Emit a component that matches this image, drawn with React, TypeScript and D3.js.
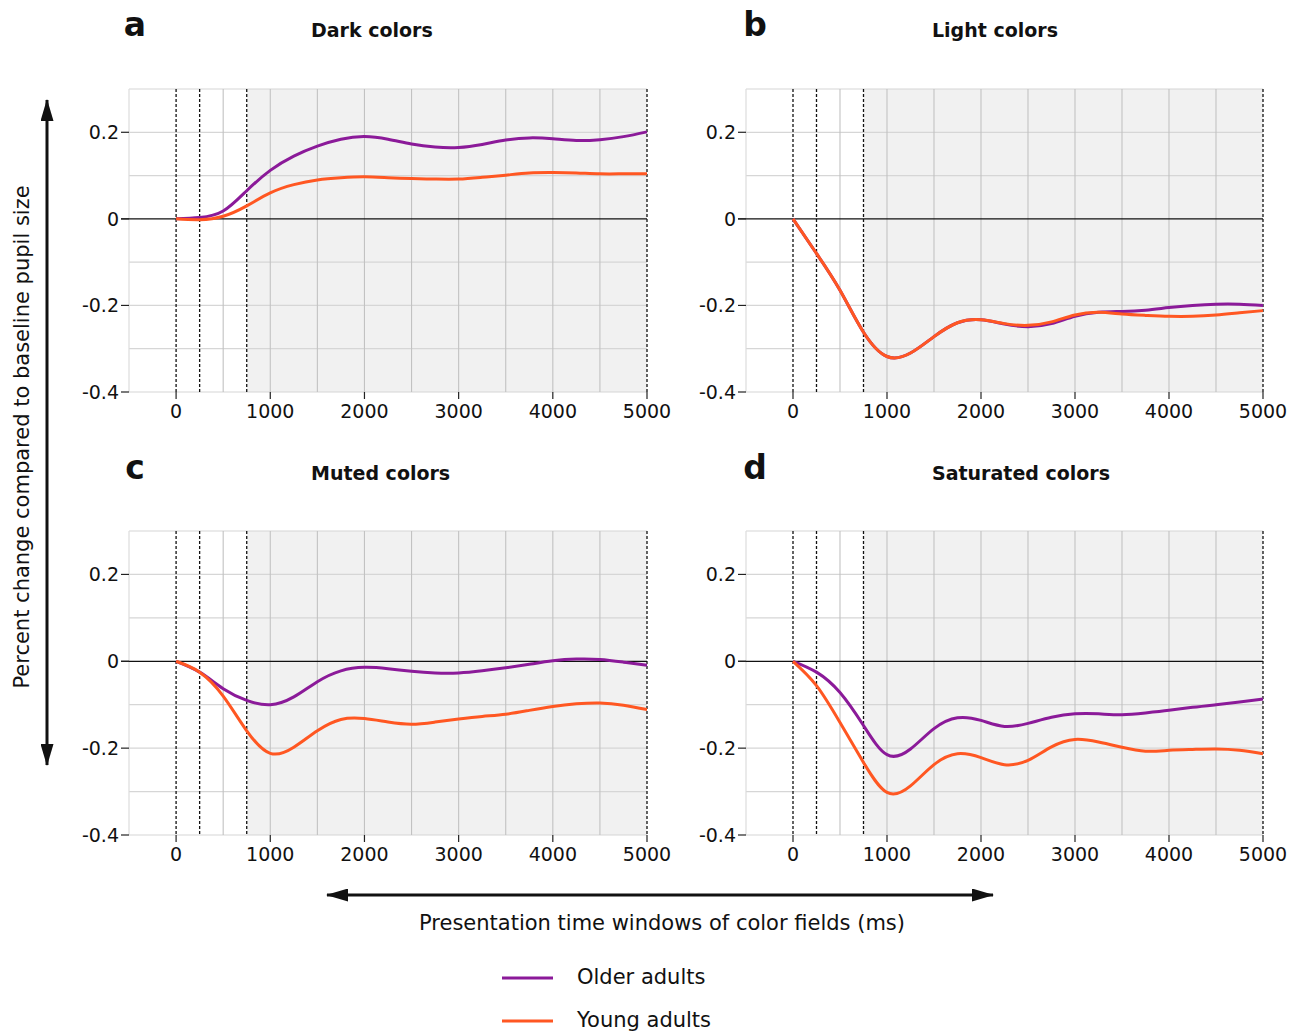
import React from 'react';
import * as d3 from 'd3';

// time points (ms) shared by every series
const times = [0, 250, 500, 750, 1000, 1250, 1500, 1750, 2000, 2250, 2500, 2750, 3000, 3250, 3500, 3750, 4000, 4250, 4500, 4750, 5000];

// a - dark colors
const darkOlder = [0, 0.003, 0.018, 0.065, 0.112, 0.145, 0.168, 0.184, 0.19, 0.184, 0.173, 0.166, 0.165, 0.172, 0.182, 0.187, 0.185, 0.181, 0.183, 0.19, 0.201];
const darkYoung = [0, -0.002, 0.006, 0.03, 0.06, 0.079, 0.09, 0.095, 0.097, 0.095, 0.093, 0.092, 0.092, 0.096, 0.101, 0.106, 0.107, 0.106, 0.104, 0.104, 0.104];
// b - light colors
const lightOlder = [0, -0.08, -0.165, -0.262, -0.318, -0.31, -0.272, -0.24, -0.233, -0.243, -0.249, -0.242, -0.225, -0.216, -0.214, -0.211, -0.205, -0.2, -0.197, -0.197, -0.2];
const lightYoung = [0, -0.08, -0.165, -0.262, -0.318, -0.31, -0.272, -0.24, -0.233, -0.242, -0.246, -0.238, -0.222, -0.216, -0.22, -0.223, -0.225, -0.225, -0.222, -0.217, -0.212];
// c - muted colors
const mutedOlder = [0, -0.025, -0.063, -0.09, -0.1, -0.082, -0.047, -0.022, -0.014, -0.017, -0.023, -0.027, -0.027, -0.022, -0.015, -0.007, 0.001, 0.005, 0.004, -0.002, -0.009];
const mutedYoung = [0, -0.025, -0.08, -0.16, -0.212, -0.198, -0.16, -0.134, -0.132, -0.14, -0.145, -0.14, -0.133, -0.127, -0.122, -0.113, -0.104, -0.098, -0.096, -0.101, -0.111];
// d - saturated colors
const satOlder = [0, -0.025, -0.072, -0.148, -0.215, -0.202, -0.155, -0.13, -0.136, -0.15, -0.143, -0.129, -0.121, -0.121, -0.123, -0.119, -0.113, -0.106, -0.1, -0.094, -0.087];
const satYoung = [0, -0.056, -0.141, -0.233, -0.302, -0.287, -0.238, -0.213, -0.222, -0.238, -0.228, -0.197, -0.18, -0.186, -0.198, -0.207, -0.205, -0.203, -0.202, -0.205, -0.213];

const panelLetters = ['a', 'b', 'c', 'd'];
const panelTitles = ['Dark colors', 'Light colors', 'Muted colors', 'Saturated colors'];
const olderSeries = [darkOlder, lightOlder, mutedOlder, satOlder];
const youngSeries = [darkYoung, lightYoung, mutedYoung, satYoung];

const xTicks = [0, 1000, 2000, 3000, 4000, 5000];
const xGrid = [500, 1000, 1500, 2000, 2500, 3000, 3500, 4000, 4500];
const dashedMarks = [0, 250, 750, 5000];
const yTicks = [0.2, 0, -0.2, -0.4];
const yGrid = [0.3, 0.2, 0.1, -0.1, -0.2, -0.3, -0.4];
const seriesNames = ['Older adults', 'Young adults'];

const OLDER = '#8b1a99';
const YOUNG = '#ff5722';
const FONT = 'DejaVu Sans, sans-serif';

const colRanges = [[129, 647], [746, 1263]];
const rowRanges = [[392, 89], [835, 531]];

const fmtY = (v: number) => (v === 0 ? '0' : String(v));

function Panel({ idx }: { idx: number }) {
  const col = idx % 2;
  const row = Math.floor(idx / 2);
  const x = d3.scaleLinear().domain([-500, 5000]).range(colRanges[col]);
  const y = d3.scaleLinear().domain([-0.4, 0.3]).range(rowRanges[row]);
  const line = d3
    .line<number>()
    .x((_, i) => x(times[i]))
    .y((d) => y(d))
    .curve(d3.curveNatural);

  const [x0] = x.range();
  const yTop = y(0.3);
  const yBot = y(-0.4);
  const titleY = row === 0 ? 37 : 480;

  return (
    <g>
      <text x={col === 0 ? 135 : 755} y={titleY - 1} fontSize={33} fontWeight="bold" textAnchor="middle" fontFamily={FONT} fill="#111">
        {panelLetters[idx]}
      </text>
      <text x={col === 0 ? 311 : 932} y={titleY} fontSize={19} fontWeight={600} fontFamily={FONT} fill="#111">
        {panelTitles[idx]}
      </text>

      {/* shaded window */}
      <rect x={x(750)} y={yTop} width={x(5000) - x(750)} height={yBot - yTop} fill="#f1f1f1" />

      {/* grid */}
      {yGrid.map((v) => (
        <line key={'h' + v} x1={x0} x2={x(5000)} y1={y(v)} y2={y(v)} stroke="#d6d6d6" strokeWidth={1.2} />
      ))}
      <line x1={x0} x2={x0} y1={yTop} y2={yBot} stroke="#dcdcdc" strokeWidth={1.2} />
      {xGrid.map((v) => (
        <line key={'v' + v} x1={x(v)} x2={x(v)} y1={yTop} y2={yBot} stroke="#c2c2c2" strokeWidth={1.1} />
      ))}
      {dashedMarks.map((v) => (
        <line key={'d' + v} x1={x(v)} x2={x(v)} y1={yTop} y2={yBot} stroke="#111" strokeWidth={1.3} strokeDasharray="3,2" />
      ))}

      {/* zero line */}
      <line x1={x0 - 8} x2={x(5000)} y1={y(0)} y2={y(0)} stroke="#111" strokeWidth={1.3} />

      {/* y ticks */}
      {yTicks.map((v) => (
        <g key={'yt' + v}>
          <line x1={x0 - 8} x2={x0} y1={y(v)} y2={y(v)} stroke="#222" strokeWidth={1.2} />
          <text x={x0 - 10} y={y(v)} dy="0.36em" textAnchor="end" fontSize={19} fontFamily={FONT} fill="#111">
            {fmtY(v)}
          </text>
        </g>
      ))}
      {/* x ticks */}
      {xTicks.map((v) => (
        <g key={'xt' + v}>
          <line x1={x(v)} x2={x(v)} y1={yBot} y2={yBot + 7} stroke="#222" strokeWidth={1.2} />
          <text x={x(v)} y={yBot + 26} textAnchor="middle" fontSize={19} fontFamily={FONT} fill="#111">
            {v}
          </text>
        </g>
      ))}

      <path d={line(olderSeries[idx]) || ''} fill="none" stroke={OLDER} strokeWidth={3} strokeLinejoin="round" />
      <path d={line(youngSeries[idx]) || ''} fill="none" stroke={YOUNG} strokeWidth={3} strokeLinejoin="round" />
    </g>
  );
}

export default function App() {
  return (
    <div style={{ position: 'absolute', left: 0, top: 0 }}>
      <svg width={1306} height={1031} style={{ display: 'block', background: '#fff' }}>
        <defs>
          <marker id="arr" viewBox="0 0 22 13" refX={21} refY={6.5} markerWidth={22} markerHeight={13} markerUnits="userSpaceOnUse" orient="auto-start-reverse">
            <path d="M0,0 L22,6.5 L0,13 Z" fill="#111" />
          </marker>
        </defs>

        {[0, 1, 2, 3].map((i) => (
          <Panel key={i} idx={i} />
        ))}

        {/* y axis arrow + label */}
        <line x1={47} x2={47} y1={100} y2={765} stroke="#111" strokeWidth={3} markerStart="url(#arr)" markerEnd="url(#arr)" />
        <text transform="translate(29,437) rotate(-90)" textAnchor="middle" fontSize={21} fontFamily={FONT} fill="#111">
          Percent change compared to baseline pupil size
        </text>

        {/* x axis arrow + label */}
        <line x1={327} x2={993} y1={895} y2={895} stroke="#111" strokeWidth={3} markerStart="url(#arr)" markerEnd="url(#arr)" />
        <text x={662} y={930} textAnchor="middle" fontSize={21} fontFamily={FONT} fill="#111">
          Presentation time windows of color fields (ms)
        </text>

        {/* legend */}
        {seriesNames.map((name, i) => (
          <g key={name} transform={`translate(0,${978 + i * 43})`}>
            <line x1={502} x2={553} y1={0} y2={0} stroke={i === 0 ? OLDER : YOUNG} strokeWidth={3} />
            <text x={577} y={0} dy="0.3em" fontSize={21} fontFamily={FONT} fill="#111">
              {name}
            </text>
          </g>
        ))}
      </svg>
    </div>
  );
}
